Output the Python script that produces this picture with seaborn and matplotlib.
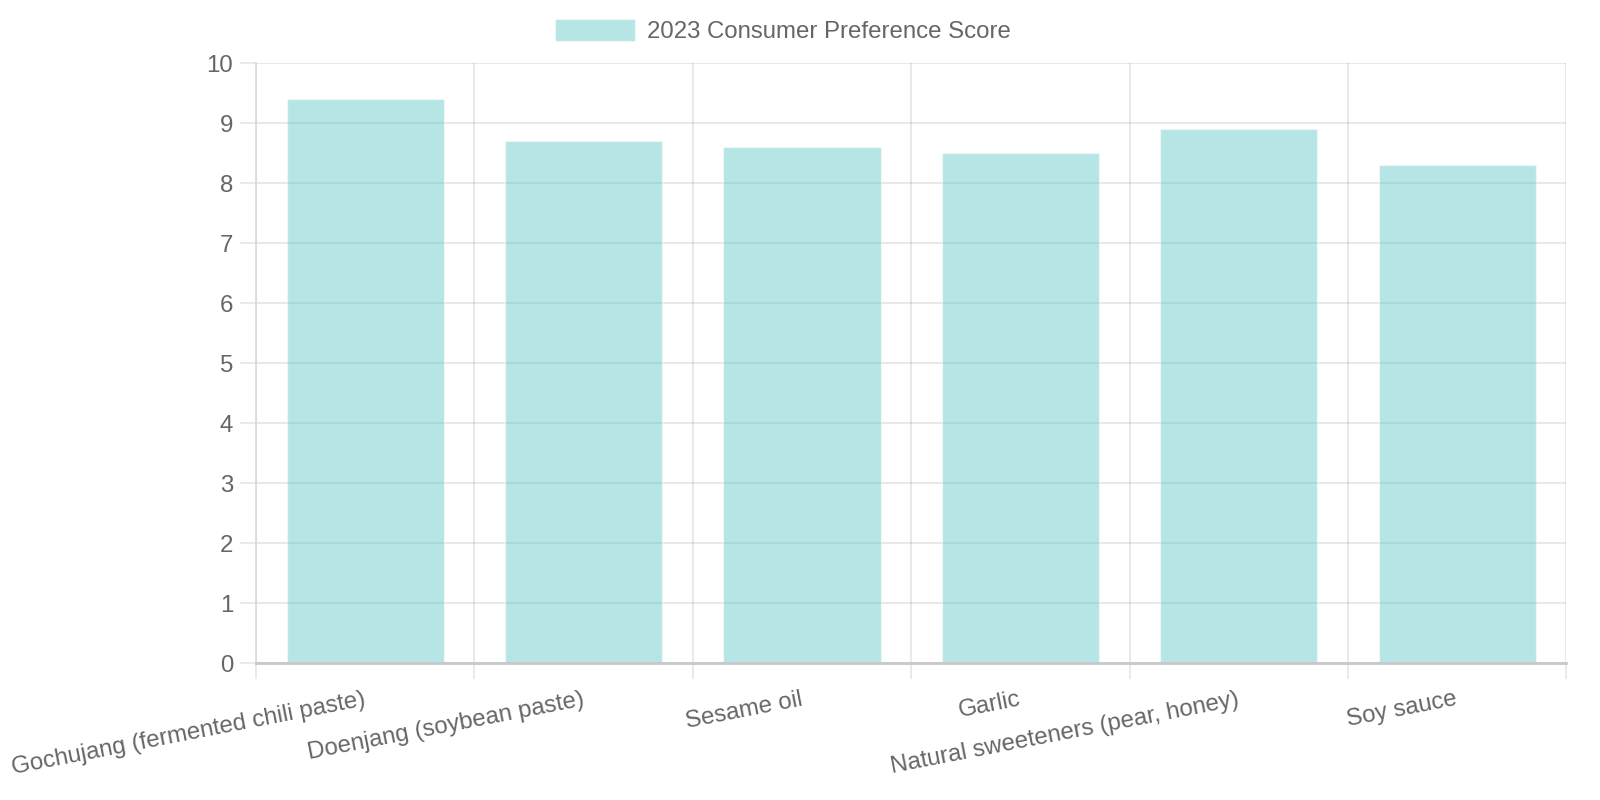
import numpy as np
import seaborn as sns
import matplotlib.pyplot as plt
from matplotlib.ticker import FixedLocator

# dados do gráfico
categorias = ['Gochujang (fermented chili paste)', 'Doenjang (soybean paste)', 'Sesame oil',
              'Garlic', 'Natural sweeteners (pear, honey)', 'Soy sauce']
pontuacoes = [9.4, 8.7, 8.6, 8.5, 8.9, 8.3]
legenda = '2023 Consumer Preference Score'

sns.set_style('white')
plt.rcParams['font.family'] = ['Liberation Sans', 'DejaVu Sans']

cinza = '#666666'
fs = 17.3

fig = plt.figure(figsize=(16, 8), dpi=100)
ax = fig.add_axes([0.16, 0.171, 0.819, 0.75])

# grade antes das barras (barras semi-transparentes por cima)
ax.set_axisbelow(True)
sns.barplot(x=categorias, y=pontuacoes, color='#4bc0c0', alpha=0.4, saturation=1,
            width=0.72, label=legenda, ax=ax)
if ax.get_legend() is not None:
    ax.get_legend().remove()

ax.set_xlim(-0.5, len(categorias) - 0.5)
ax.set_ylim(0, 10)
ax.set_yticks(range(0, 11))
ax.set_xlabel('')
ax.set_ylabel('')

# linhas verticais entre categorias
ax.xaxis.set_minor_locator(FixedLocator(np.arange(-0.5, len(categorias), 1.0)))
ax.grid(True, which='major', axis='y', color='black', alpha=0.1, linewidth=1.2)
ax.grid(True, which='minor', axis='x', color='black', alpha=0.1, linewidth=1.2)
ax.tick_params(axis='x', which='minor', length=11.5, width=1.2, color='#e6e6e6', bottom=True)
ax.tick_params(axis='x', which='major', length=0, pad=26, labelsize=fs, labelcolor=cinza)
ax.tick_params(axis='y', which='major', length=11.5, width=1.2, color='#e6e6e6', pad=5,
               labelsize=fs, labelcolor=cinza, left=True)

for lbl in ax.get_xticklabels():
    lbl.set_rotation(11)
    lbl.set_ha('right')
    lbl.set_va('center')
    lbl.set_rotation_mode('anchor')

for lado in ['top', 'right']:
    ax.spines[lado].set_visible(False)
ax.spines['left'].set_color('#d9d9d9')
ax.spines['left'].set_linewidth(1.2)
ax.spines['bottom'].set_color('#c8c8c8')
ax.spines['bottom'].set_linewidth(2)

handles, labels = ax.get_legend_handles_labels()
fig.legend(handles, labels, loc='center', bbox_to_anchor=(783 / 1600, 1 - 31 / 800),
           frameon=False, fontsize=fs, labelcolor=cinza, handlelength=3.3,
           handleheight=1.0, handletextpad=0.5)

fig.savefig('out.png', dpi=100)
